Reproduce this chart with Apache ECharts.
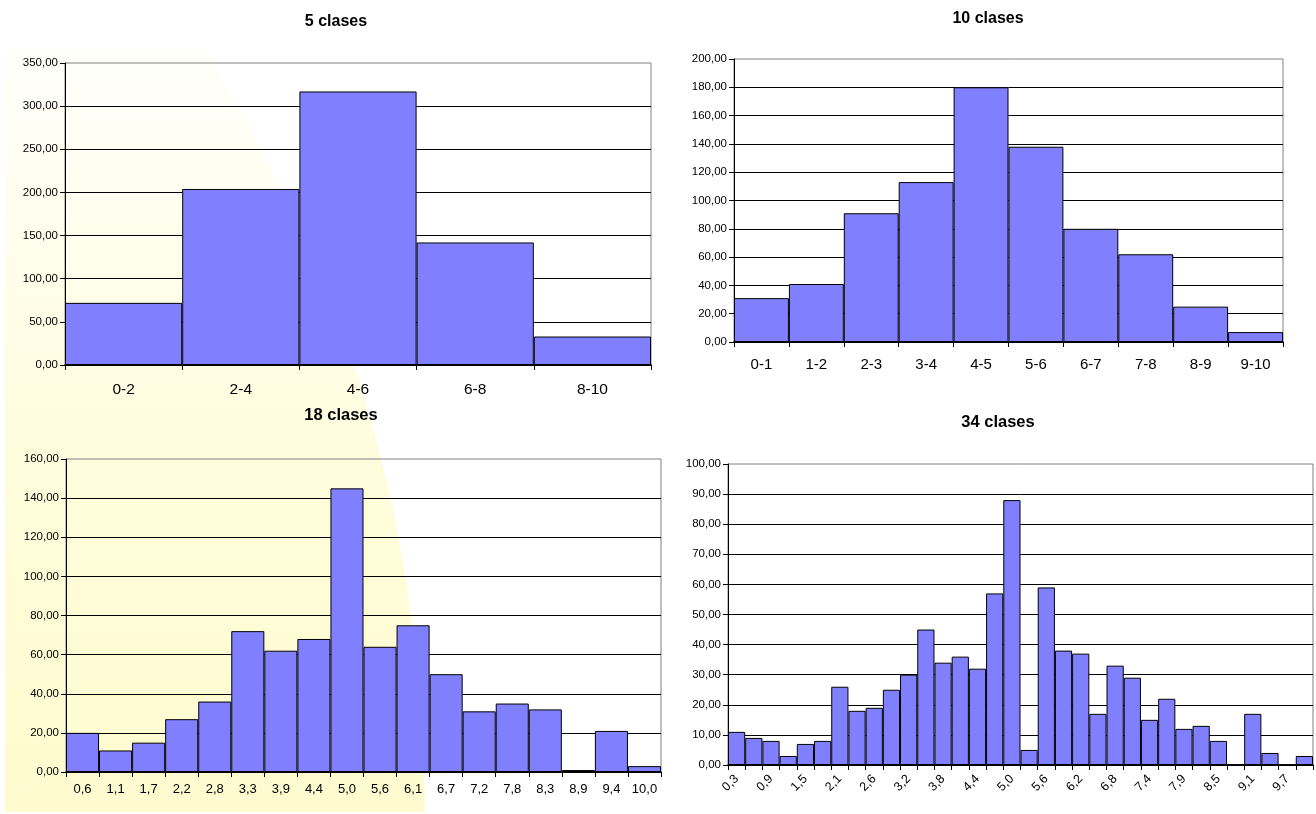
<!DOCTYPE html>
<html>
<head>
<meta charset="utf-8">
<title>Histogramas</title>
<script src="https://cdn.jsdelivr.net/npm/echarts@6/dist/echarts.min.js"></script>
<style>
  html, body { margin: 0; padding: 0; background: #ffffff; }
  #chart { width: 1316px; height: 814px; }
</style>
</head>
<body>
<div id="chart"></div>
<script>
// Chart titles
const titles = ['5 clases', '10 clases', '18 clases', '34 clases'];

// 5 classes
const cats5 = ['0-2', '2-4', '4-6', '6-8', '8-10'];
const vals5 = [72, 204, 317, 142, 33];

// 10 classes
const cats10 = ['0-1', '1-2', '2-3', '3-4', '4-5', '5-6', '6-7', '7-8', '8-9', '9-10'];
const vals10 = [31, 41, 91, 113, 180, 138, 80, 62, 25, 7];

// 18 classes (upper class limits)
const cats18 = ['0,6', '1,1', '1,7', '2,2', '2,8', '3,3', '3,9', '4,4', '5,0', '5,6',
                '6,1', '6,7', '7,2', '7,8', '8,3', '8,9', '9,4', '10,0'];
const vals18 = [20, 11, 15, 27, 36, 72, 62, 68, 145, 64, 75, 50, 31, 35, 32, 1, 21, 3];

// 34 classes (upper class limits)
const cats34 = ['0,3', '0,6', '0,9', '1,2', '1,5', '1,8', '2,1', '2,4', '2,6', '2,9',
                '3,2', '3,5', '3,8', '4,1', '4,4', '4,7', '5,0', '5,3', '5,6', '5,9',
                '6,2', '6,5', '6,8', '7,1', '7,4', '7,6', '7,9', '8,2', '8,5', '8,8',
                '9,1', '9,4', '9,7', '10,0'];
const vals34 = [11, 9, 8, 3, 7, 8, 26, 18, 19, 25, 30, 45, 34, 36, 32, 57, 88, 5, 59, 38,
                37, 17, 33, 29, 15, 22, 12, 13, 8, 0, 17, 4, 0, 3];

// Value-axis ranges
const yMax = [350, 200, 160, 100];
const yStep = [50, 20, 20, 10];

const categories = [cats5, cats10, cats18, cats34];
const values = [vals5, vals10, vals18, vals34];

// Layout of each panel
const panels = [
  { grid: { left: 65, top: 63, width: 586, height: 302 }, titleX: 336, titleY: 14, titleSize: 16,
    xFont: 15.5, xMargin: 17 },
  { grid: { left: 734, top: 59, width: 549, height: 283 }, titleX: 988, titleY: 11, titleSize: 16,
    xFont: 15, xMargin: 15 },
  { grid: { left: 66, top: 459, width: 595, height: 313 }, titleX: 341, titleY: 407, titleSize: 16.5,
    xFont: 13, xMargin: 11 },
  { grid: { left: 728, top: 464, width: 585, height: 301 }, titleX: 998, titleY: 414, titleSize: 16.5,
    xFont: 12.5, xMargin: 12, rotate: 45, labelInterval: 1 }
];

const FONT = '"Liberation Sans", Arial, sans-serif';
const fmt = v => v.toFixed(2).replace('.', ',');

// Outline of the pale yellow backdrop: straight left/top/bottom edges and a
// curved right edge traced along a cubic Bezier.
function backdropPoints() {
  const p0 = [205, 48], p1 = [290, 200], p2 = [420, 420], p3 = [425, 812];
  const pts = [[5, 48]];
  for (let k = 0; k <= 40; k++) {
    const t = k / 40, u = 1 - t;
    const a = u * u * u, b = 3 * u * u * t, c = 3 * u * t * t, d = t * t * t;
    pts.push([a * p0[0] + b * p1[0] + c * p2[0] + d * p3[0],
              a * p0[1] + b * p1[1] + c * p2[1] + d * p3[1]]);
  }
  pts.push([5, 812]);
  return pts;
}

const option = {
  animation: false,
  backgroundColor: '#ffffff',
  textStyle: { fontFamily: FONT },
  graphic: {
    elements: [{
      type: 'polygon',
      z: -100,
      silent: true,
      shape: { points: backdropPoints() },
      style: {
        fill: {
          type: 'linear', x: 0, y: 0, x2: 0, y2: 1,
          colorStops: [
            { offset: 0, color: '#fffffb' },
            { offset: 0.3, color: '#fffeea' },
            { offset: 0.6, color: '#fffcda' },
            { offset: 1, color: '#fffbcf' }
          ]
        }
      }
    }]
  },
  title: panels.map((p, i) => ({
    text: titles[i],
    left: p.titleX,
    top: p.titleY,
    textAlign: 'center',
    padding: 0,
    textStyle: { fontFamily: FONT, fontWeight: 'bold', fontSize: p.titleSize, color: '#000' }
  })),
  grid: panels.map(p => Object.assign({
    show: true,
    borderColor: '#808080',
    borderWidth: 1,
    backgroundColor: 'transparent',
    containLabel: false
  }, p.grid)),
  xAxis: panels.map((p, i) => ({
    type: 'category',
    gridIndex: i,
    data: categories[i],
    boundaryGap: true,
    axisLine: { show: true, lineStyle: { color: '#000', width: 1.5 } },
    axisTick: { show: true, length: 5, interval: 0, alignWithLabel: false,
                lineStyle: { color: '#000', width: 1 } },
    axisLabel: {
      interval: p.labelInterval || 0,
      rotate: p.rotate || 0,
      margin: p.xMargin,
      color: '#000',
      fontFamily: FONT,
      fontSize: p.xFont
    },
    splitLine: { show: false }
  })),
  yAxis: panels.map((p, i) => ({
    type: 'value',
    gridIndex: i,
    min: 0,
    max: yMax[i],
    interval: yStep[i],
    axisLine: { show: true, lineStyle: { color: '#000', width: 1 } },
    axisTick: { show: true, length: 5, lineStyle: { color: '#000', width: 1 } },
    axisLabel: {
      margin: 7,
      color: '#000',
      fontFamily: FONT,
      fontSize: 11.5,
      formatter: fmt
    },
    splitLine: { show: true, showMaxLine: false, lineStyle: { color: '#000', width: 1 } }
  })),
  series: panels.map((p, i) => ({
    type: 'bar',
    xAxisIndex: i,
    yAxisIndex: i,
    data: values[i],
    barCategoryGap: '0%',
    barGap: '0%',
    itemStyle: { color: '#8080ff', borderColor: '#000', borderWidth: 1 },
    emphasis: { disabled: true }
  }))
};

const chart = echarts.init(document.getElementById('chart'), null, { renderer: 'canvas' });
chart.setOption(option);
</script>
</body>
</html>
